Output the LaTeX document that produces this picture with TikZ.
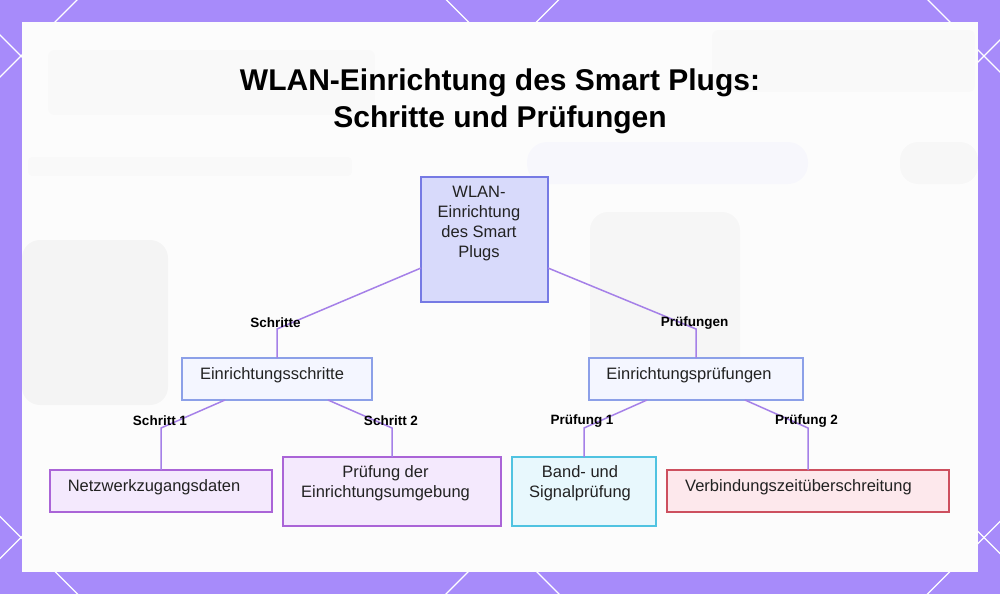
\documentclass[tikz,border=0pt]{standalone}
\usepackage{fontspec}
\setmainfont{Liberation Sans}
\definecolor{bgpurple}{RGB}{167,139,250}
\definecolor{innerbg}{RGB}{252,252,252}
\definecolor{linec}{RGB}{165,128,232}
\definecolor{txt}{RGB}{34,34,34}
\definecolor{rootfill}{RGB}{216,218,251}
\definecolor{rootdraw}{RGB}{118,122,228}
\definecolor{midfill}{RGB}{244,246,255}
\definecolor{middraw}{RGB}{140,160,232}
\definecolor{purfill}{RGB}{244,233,253}
\definecolor{purdraw}{RGB}{170,100,215}
\definecolor{cyanfill}{RGB}{232,248,253}
\definecolor{cyandraw}{RGB}{80,195,225}
\definecolor{redfill}{RGB}{253,232,236}
\definecolor{reddraw}{RGB}{205,80,95}
\begin{document}
\begin{tikzpicture}[x=1pt,y=-1pt,
  box/.style={draw,line width=1.5pt,inner sep=0pt,outer sep=0pt},
  rootbox/.style={box,fill=rootfill,draw=rootdraw},
  midbox/.style={box,fill=midfill,draw=middraw},
  purbox/.style={box,fill=purfill,draw=purdraw},
  cyanbox/.style={box,fill=cyanfill,draw=cyandraw},
  redbox/.style={box,fill=redfill,draw=reddraw},
  ntext/.style={text=txt,font=\fontsize{16.5}{20}\selectfont,align=center,inner sep=0pt},
  elabel/.style={text=black,font=\fontsize{13.5}{16}\selectfont\bfseries,inner sep=0pt},
  conn/.style={draw=linec,line width=1.5pt},
  blob/.style={fill=black,opacity=0.03,rounded corners=18pt}
]
\useasboundingbox (0,0) rectangle (1000,594);
\fill[bgpurple] (0,0) rectangle (1000,594);
\begin{scope}
  \clip (0,0) rectangle (1000,594);
  \foreach \c in {77,558.5,1040,1521.5}
    \draw[white,line width=1.3pt] (\c+100,-100) -- (\c-1100,1100);
  \foreach \c in {35,516.5,-446.5,-928}
    \draw[white,line width=1.3pt] (-100,\c-100) -- (1100,\c+1100);
\end{scope}
\fill[innerbg] (22,22) rectangle (978,572);
% faint blurred background shapes
\fill[blob] (22,240) rectangle (168,405);
\fill[blob,opacity=0.022] (590,212) rectangle (740,400);
\fill[blob,opacity=0.02] (900,142) rectangle (978,184);
\fill[blue,opacity=0.018,rounded corners=20pt] (527,142) rectangle (808,184);
\fill[blob,opacity=0.012,rounded corners=6pt] (48,50) rectangle (375,115);
\fill[blob,opacity=0.012,rounded corners=6pt] (712,30) rectangle (975,92);
\fill[blob,opacity=0.01,rounded corners=4pt] (28,157) rectangle (352,176);

% title
\node[text=black,font=\fontsize{30}{37}\selectfont\bfseries,align=center,inner sep=0pt] (title) at (500,101)
  {WLAN-Einrichtung des Smart Plugs:\\Schritte und Prüfungen};

% boxes
\node[rootbox,minimum width=127pt,minimum height=125pt] (root) at (484.5,239.5) {};
\node[midbox,minimum width=190pt,minimum height=42pt] (es) at (277,379) {};
\node[midbox,minimum width=214pt,minimum height=42pt] (ep) at (696,379) {};
\node[purbox,minimum width=222pt,minimum height=42pt] (nz) at (161,491) {};
\node[purbox,minimum width=218pt,minimum height=69pt] (pe) at (392,491.5) {};
\node[cyanbox,minimum width=144pt,minimum height=69pt] (bs) at (584,491.5) {};
\node[redbox,minimum width=282pt,minimum height=42pt] (vz) at (808,491) {};

% box texts
\node[ntext] (rootT) at (479,224) {WLAN-\\Einrichtung\\des Smart\\Plugs};
\node[ntext] (esT) at (272,375) {Einrichtungsschritte};
\node[ntext] (epT) at (689,375) {Einrichtungsprüfungen};
\node[ntext] (nzT) at (154,487) {Netzwerkzugangsdaten};
\node[ntext] (peT) at (385.5,483) {Prüfung der\\Einrichtungsumgebung};
\node[ntext] (bsT) at (580,483) {Band- und\\Signalprüfung};
\node[ntext] (vzT) at (798.5,487) {Verbindungszeitüberschreitung};

% elbow coordinates
\coordinate (k1) at (277,329);
\coordinate (k2) at (696,329);
\coordinate (k3) at (161,428);
\coordinate (k4) at (392,428);
\coordinate (k5) at (584,428);
\coordinate (k6) at (808,428);

% connectors
\draw[conn] ([yshift=-28.5pt]root.west) -- (k1) -- (k1 |- es.north);
\draw[conn] ([yshift=-28.5pt]root.east) -- (k2) -- (k2 |- ep.north);
\draw[conn] ([xshift=-52pt]es.south) -- (k3) -- (k3 |- nz.north);
\draw[conn] ([xshift=51pt]es.south) -- (k4) -- (k4 |- pe.north);
\draw[conn] ([xshift=-49pt]ep.south) -- (k5) -- (k5 |- bs.north);
\draw[conn] ([xshift=49pt]ep.south) -- (k6) -- (k6 |- vz.north);

% labels
\node[elabel] (l1) at (275.5,323) {Schritte};
\node[elabel] (l2) at (694.5,323) {Prüfungen};
\node[elabel] (l3) at (160,421) {Schritt 1};
\node[elabel] (l4) at (391,421) {Schritt 2};
\node[elabel] (l5) at (582,421) {Prüfung 1};
\node[elabel] (l6) at (806.5,421) {Prüfung 2};
\end{tikzpicture}
\end{document}
